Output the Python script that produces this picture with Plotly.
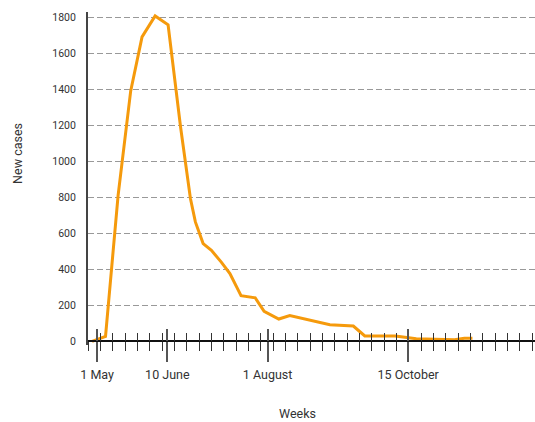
import plotly.graph_objects as go

# Data (x in weeks since start, y = new cases)
weeks = [0.33, 1.42, 2.44, 3.46, 4.38, 5.44, 6.49, 7.5, 8.3, 8.7, 9.33, 10.0, 10.8, 11.5,
         12.4, 13.55, 14.27, 15.46, 16.35, 19.6, 21.5, 22.43, 24.9, 26.6, 29.7, 30.5, 31.15]
new_cases = [0, 28, 810, 1390, 1690, 1806, 1757, 1190, 793, 663, 543, 505, 440, 376,
             254, 242, 167, 124, 143, 93, 85, 30, 30, 15, 9, 18, 18]

major_tick_weeks = [0.74, 6.43, 14.55, 25.94]
major_tick_labels = ["1 May", "10 June", "1 August", "15 October"]
minor_tick_weeks = list(range(0, 37))
y_ticks = [0, 200, 400, 600, 800, 1000, 1200, 1400, 1600, 1800]

FONT = "Roboto, Liberation Sans, sans-serif"

fig = go.Figure()
fig.add_trace(go.Scatter(x=weeks, y=new_cases, mode="lines",
                         line=dict(color="#F59A0C", width=3),
                         showlegend=False, hoverinfo="skip"))
# invisible copy to bring the overlay axis (inside ticks) to life
fig.add_trace(go.Scatter(x=weeks, y=new_cases, mode="lines", xaxis="x2",
                         line=dict(color="rgba(0,0,0,0)", width=0),
                         showlegend=False, hoverinfo="skip"))

x_range = [0, 36.22]
y_range = [-20, 1828]
pos = 20 / (y_range[1] - y_range[0])

fig.update_layout(
    width=535, height=422,
    margin=dict(l=88, r=0, t=12, b=77),
    plot_bgcolor="white", paper_bgcolor="white",
    font=dict(family=FONT, color="#333"),
    xaxis=dict(
        range=x_range, anchor="free", position=pos,
        tickmode="array", tickvals=major_tick_weeks, ticktext=major_tick_labels,
        ticks="outside", ticklen=20, tickwidth=1.5, tickcolor="#555",
        ticklabelstandoff=2,
        tickfont=dict(size=12.5, family=FONT, color="#333"),
        showline=True, linecolor="#111", linewidth=1.5,
        showgrid=False, zeroline=False,
        minor=dict(tickmode="array", tickvals=minor_tick_weeks, ticks="outside",
                   ticklen=9, tickwidth=1.3, tickcolor="#333", showgrid=False),
    ),
    xaxis2=dict(
        range=x_range, overlaying="x", anchor="free", position=pos, side="bottom",
        tickmode="array", tickvals=major_tick_weeks, ticktext=["" for _ in major_tick_labels],
        ticks="inside", ticklen=12, tickwidth=1.5, tickcolor="#555",
        showticklabels=False, showline=False, showgrid=False, zeroline=False,
        minor=dict(tickmode="array", tickvals=minor_tick_weeks, ticks="inside",
                   ticklen=8, tickwidth=1.3, tickcolor="#333", showgrid=False),
    ),
    yaxis=dict(
        range=y_range, tickmode="array", tickvals=y_ticks,
        ticks="", ticklabelstandoff=8,
        tickfont=dict(size=10.5, family=FONT, color="#333"),
        showline=True, linecolor="#444", linewidth=2,
        showgrid=True, gridcolor="#999", gridwidth=1, griddash="6px,3px",
        zeroline=False,
    ),
    annotations=[
        dict(text="New cases", xref="paper", yref="paper", x=-0.158, y=0.575,
             textangle=-90, showarrow=False, xanchor="center", yanchor="middle",
             font=dict(size=12.5, family=FONT, color="#333")),
        dict(text="Weeks", xref="paper", yref="paper", x=0.4676, y=-0.205,
             showarrow=False, xanchor="center", yanchor="middle",
             font=dict(size=12.5, family=FONT, color="#333")),
    ],
)

fig.write_html("out.html", config={"displayModeBar": False},
               post_script="document.body.style.margin='0';document.body.style.overflow='hidden';")
